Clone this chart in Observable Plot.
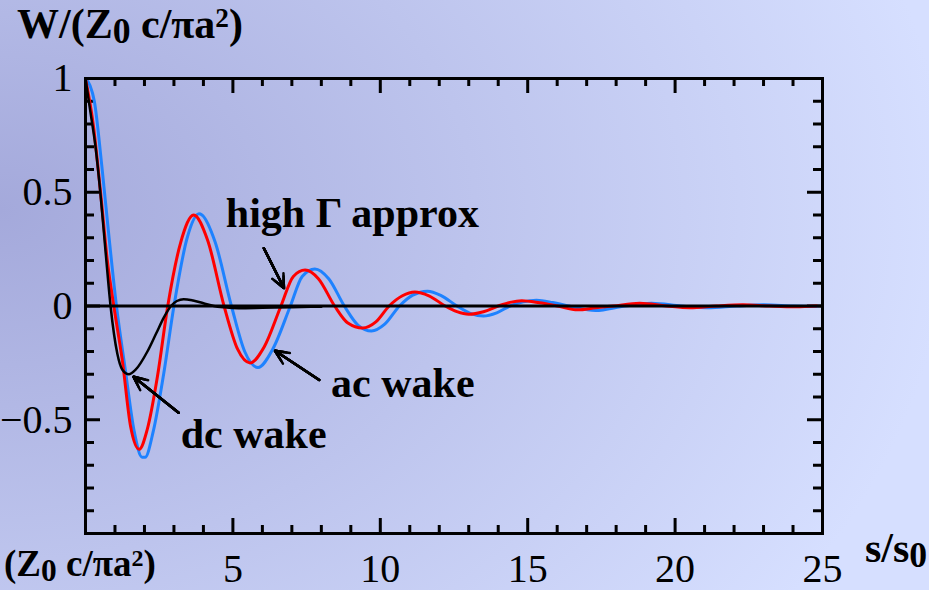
<!DOCTYPE html>
<html>
<head>
<meta charset="utf-8">
<script src="https://cdn.jsdelivr.net/npm/d3@7"></script>
<script src="https://cdn.jsdelivr.net/npm/@observablehq/plot@0.6"></script>
<style>
  html, body { margin: 0; padding: 0; }
  #wrap {
    position: relative; width: 929px; height: 590px; overflow: hidden;
    background: radial-gradient(ellipse 950px 700px at 0px 210px, #a4a9db 0%, #d6dfff 100%);
    font-family: "Liberation Serif", "Times New Roman", serif;
  }
  .lbl { position: absolute; font-weight: bold; line-height: 1; white-space: nowrap; color: #000; }
  .sub { font-size: 0.85em; position: relative; top: 0.15em; }
  .sup { font-size: 0.65em; position: relative; top: -0.4em; }
  #chart { position: absolute; left: 0; top: 0; }
</style>
</head>
<body>
<div id="wrap">
  <div id="chart"></div>
  <div class="lbl" style="left:17px; top:3px; font-size:42px;">W/(Z<span class="sub">0</span> c/πa<span class="sup">2</span>)</div>
  <div class="lbl" style="left:865px; top:527px; font-size:42px;">s/s<span class="sub">0</span></div>
  <div class="lbl" style="left:4px; top:545px; font-size:37px;">(Z<span class="sub">0</span> c/πa<span class="sup">2</span>)</div>
</div>
<script>
// ---- data ----
const redX = [0, 0.27, 0.51, 0.74, 0.96, 1.25, 1.53, 1.82, 2.1, 2.44, 2.79, 3.23, 3.67, 4.14, 4.7, 5.16, 5.58, 6.06, 6.63, 7.05, 7.45, 7.9, 8.45, 8.9, 9.4, 9.85, 10.3, 10.75, 11.17, 11.65, 12.2, 12.6, 13.0, 13.5, 14.0, 14.4, 14.8, 15.4, 16.0, 16.7, 17.3, 17.9, 18.8, 19.7, 20.5, 21.4, 22.3, 23.2, 24.1, 24.8];
const redY = [1.0, 0.79, 0.50, 0.20, 0.0, -0.24, -0.53, -0.63, -0.54, -0.31, 0.0, 0.28, 0.40, 0.29, 0.0, -0.19, -0.25, -0.18, 0.0, 0.13, 0.158, 0.12, 0.0, -0.075, -0.097, -0.07, 0.0, 0.045, 0.062, 0.045, 0.0, -0.025, -0.036, -0.025, 0.0, 0.016, 0.023, 0.014, 0.0, -0.017, -0.008, 0.0, 0.012, 0.0, -0.008, 0.0, 0.005, 0.0, -0.003, 0.0];

const blueX = [0, 0.15, 0.3, 0.55, 0.8, 1.05, 1.35, 1.65, 1.92, 2.02, 2.3, 2.65, 3.0, 3.45, 3.85, 3.95, 4.4, 4.95, 5.4, 5.85, 6.35, 6.95, 7.35, 7.78, 8.25, 8.78, 9.25, 9.7, 10.15, 10.65, 11.1, 11.6, 12.05, 12.6, 13.05, 13.5, 13.95, 14.4, 14.85, 15.3, 15.85, 16.4, 17.3, 18.3, 19.2, 20.2, 21.1, 22.1, 23.0, 24.0, 24.8];
const blueY = [1.0, 0.97, 0.9, 0.62, 0.3, 0.0, -0.28, -0.55, -0.665, -0.665, -0.55, -0.3, 0.0, 0.3, 0.405, 0.40, 0.28, 0.0, -0.2, -0.27, -0.19, 0.0, 0.13, 0.163, 0.12, 0.0, -0.085, -0.11, -0.08, 0.0, 0.048, 0.065, 0.047, 0.0, -0.032, -0.044, -0.03, 0.0, 0.018, 0.025, 0.015, 0.0, -0.02, 0.0, 0.012, 0.0, -0.008, 0.0, 0.005, 0.0, -0.002];

const dcX = [0, 0.17, 0.34, 0.51, 0.68, 0.85, 1.08, 1.25, 1.47, 1.7, 2.1, 2.4, 2.66, 2.9, 3.1, 3.33, 3.65, 4.0, 4.35, 4.7, 5.2, 6.0, 7.0, 8.0];
const dcY = [1.0, 0.85, 0.70, 0.49, 0.24, 0.0, -0.21, -0.28, -0.30, -0.28, -0.2, -0.12, -0.05, 0.0, 0.022, 0.03, 0.024, 0.012, 0.0, -0.006, -0.01, -0.008, -0.005, -0.003];

const xTickValues = [5, 10, 15, 20, 25];
const xTickLabels = ["5", "10", "15", "20", "25"];
const yTickValues = [1, 0.5, 0, -0.5];
const yTickLabels = ["1", "0.5", "0", "\u22120.5"];
const xMajorTicks = [5, 10, 15, 20];
const xMinorTicks = [1, 2, 3, 4, 6, 7, 8, 9, 11, 12, 13, 14, 16, 17, 18, 19, 21, 22, 23, 24];
const yMajorTicks = [0.5, 0, -0.5];
const yMinorTicks = [0.9, 0.8, 0.7, 0.6, 0.4, 0.3, 0.2, 0.1, -0.1, -0.2, -0.3, -0.4, -0.6, -0.7, -0.8, -0.9];

const noteText = ["high \u0393 approx", "ac wake", "dc wake"];
const noteX = [4.76, 8.33, 3.23];
const noteY = [0.408, -0.342, -0.566];
const arrowX1 = [6.05, 7.93, 3.16];
const arrowY1 = [0.254, -0.325, -0.469];
const arrowX2 = [6.73, 6.43, 1.63];
const arrowY2 = [0.079, -0.197, -0.311];

// ---- build ----
const W = 929, H = 590, mL = 85, mR = 107, mT = 78, mB = 57;
const frameW = W - mL - mR, frameH = H - mT - mB;
const majorLen = 15, minorLen = 8;

const xLab = new Map(xTickValues.map((v, i) => [v, xTickLabels[i]]));
const yLab = new Map(yTickValues.map((v, i) => [v, yTickLabels[i]]));
const series = (xs, ys) => xs.map((x, i) => ({x, y: ys[i]}));
const notes = noteText.map((t, i) => ({t, x: noteX[i], y: noteY[i]}));
const arrows = arrowX1.map((x1, i) => ({x1, y1: arrowY1[i], x2: arrowX2[i], y2: arrowY2[i]}));

const tickStyle = {stroke: "black", strokeWidth: 3};
const arrowMarks = [9, 7, 5, 3, 1.5].map(h =>
  Plot.arrow(arrows, {x1: "x1", y1: "y1", x2: "x2", y2: "y2", stroke: "black", strokeWidth: 2.5, headLength: h, headAngle: 50}));

const chart = Plot.plot({
  width: W, height: H,
  marginLeft: mL, marginRight: mR, marginTop: mT, marginBottom: mB,
  x: {domain: [0, 25]},
  y: {domain: [-1, 1]},
  style: {background: "transparent", fontFamily: "'Liberation Serif', 'Times New Roman', serif", color: "black", overflow: "visible"},
  marks: [
    // inward ticks on all four sides
    Plot.ruleX(xMajorTicks, {x: d => d, insetTop: frameH - majorLen, ...tickStyle}),
    Plot.ruleX(xMinorTicks, {x: d => d, insetTop: frameH - minorLen, ...tickStyle}),
    Plot.ruleX(xMajorTicks, {x: d => d, insetBottom: frameH - majorLen, ...tickStyle}),
    Plot.ruleX(xMinorTicks, {x: d => d, insetBottom: frameH - minorLen, ...tickStyle}),
    Plot.ruleY(yMajorTicks, {y: d => d, insetRight: frameW - majorLen, ...tickStyle}),
    Plot.ruleY(yMinorTicks, {y: d => d, insetRight: frameW - minorLen - 1, ...tickStyle}),
    Plot.ruleY(yMajorTicks, {y: d => d, insetLeft: frameW - majorLen, ...tickStyle}),
    Plot.ruleY(yMinorTicks, {y: d => d, insetLeft: frameW - minorLen - 1, ...tickStyle}),
    // curves
    Plot.line(series(blueX, blueY), {x: "x", y: "y", stroke: "#1e82ff", strokeWidth: 3, curve: "monotone-x"}),
    Plot.line(series(redX, redY), {x: "x", y: "y", stroke: "#ff0000", strokeWidth: 3, curve: "monotone-x"}),
    Plot.line(series(dcX, dcY), {x: "x", y: "y", stroke: "black", strokeWidth: 2.5, curve: "monotone-x"}),
    Plot.ruleY([0], {stroke: "black", strokeWidth: 3}),
    Plot.frame({stroke: "black", strokeWidth: 3}),
    // axes labels
    Plot.axisX(xTickValues, {anchor: "bottom", tickSize: 0, tickPadding: 20, fontSize: 40, label: null, tickFormat: d => xLab.get(d)}),
    Plot.axisY(yTickValues, {anchor: "left", tickSize: 0, tickPadding: 13, fontSize: 40, label: null, tickFormat: d => yLab.get(d)}),
    // annotations
    ...arrowMarks,
    Plot.text(notes, {x: "x", y: "y", text: "t", textAnchor: "start", fontSize: 42, fontWeight: "bold", fill: "black"})
  ]
});
document.getElementById("chart").appendChild(chart);
</script>
</body>
</html>
